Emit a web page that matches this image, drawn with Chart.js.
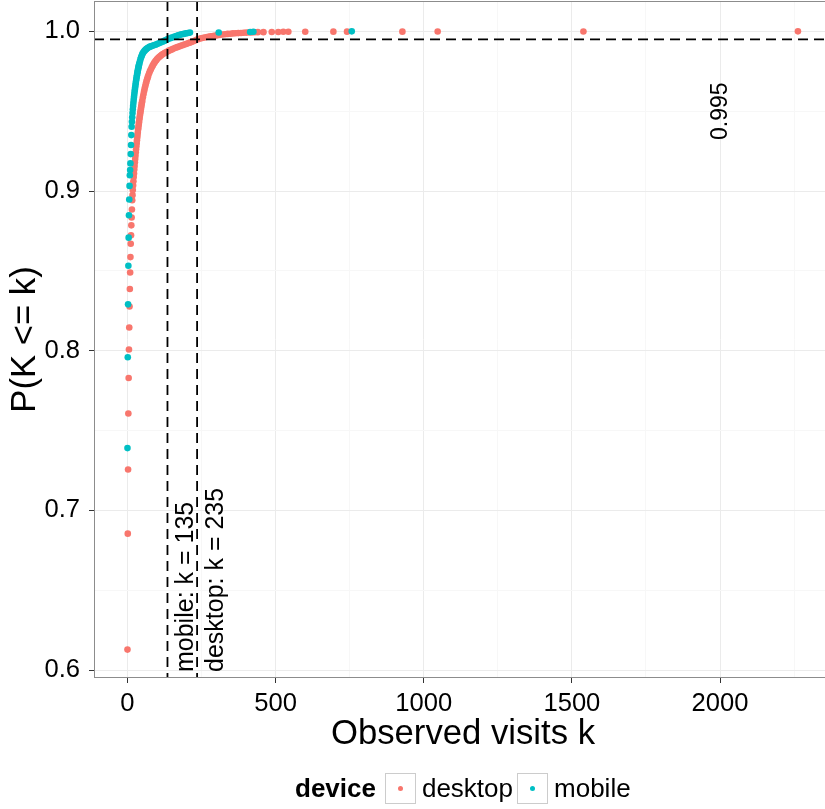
<!DOCTYPE html>
<html>
<head>
<meta charset="utf-8">
<script src="https://cdn.jsdelivr.net/npm/chart.js@4.4.1/dist/chart.umd.min.js"></script>
<style>
  html, body { margin: 0; padding: 0; background: #ffffff; overflow: hidden; }
  #wrap { position: relative; width: 825px; height: 809px; overflow: hidden; }
  #chart { position: absolute; left: 0; top: 0; }
  #legend {
    position: absolute; left: 295px; top: 773px; height: 30px;
    display: flex; align-items: center;
    font-family: "Liberation Sans", Arial, sans-serif; font-size: 26px; color: #000;
  }
  #legend .title { font-weight: bold; margin-right: 9px; }
  #legend .key {
    width: 29px; height: 29px; border: 1px solid #cccccc; box-sizing: content-box;
    display: flex; align-items: center; justify-content: center; background: #fff;
  }
  #legend .dot { width: 5px; height: 5px; border-radius: 50%; }
  #legend .lbl { margin-left: 6px; margin-right: 4px; }
</style>
</head>
<body>
<div id="wrap">
  <canvas id="chart" width="832" height="809"></canvas>
  <div id="legend"></div>
</div>
<script>
// Empirical CDF of observed visits per device: k and P(K <= k)
const desktopVisits = [
  0,1,2,3,4,5,6,7,8,9,10,11,12,13,14,15,16,17,18,19,20,21,22,23,24,25,26,27,28,29,30,
  31,32,33,34,35,36,37,38,39,40,41,42,43,44,45,46,47,48,49,50,
  52,54,56,58,60,62,64,66,68,70,73,76,79,82,85,88,91,94,97,100,
  104,108,112,116,120,125,130,135,140,145,150,156,162,168,174,180,186,192,198,204,
  210,216,222,228,235,242,249,256,264,272,280,288,296,304,312,320,329,338,347,356,
  365,374,383,392,401,410,420,430,440,459,487,509,526,543,600,695,741,928,1047,1539,2263
];
const desktopProb = [
  0.6128,0.6854,0.7256,0.7607,0.7829,0.8007,0.8145,0.8277,0.8386,0.8490,0.8586,0.8670,0.8723,0.8785,0.8834,0.8884,
  0.8942,0.8974,0.9006,0.9035,0.9061,0.9087,0.9110,0.9134,0.9157,0.9180,0.9200,0.9221,0.9243,0.9261,0.9281,
  0.9299,0.9318,0.9335,0.9353,0.9369,0.9386,0.9401,0.9417,0.9431,0.9446,0.9459,0.9473,0.9486,0.9498,0.9511,
  0.9522,0.9534,0.9546,0.9556,0.9567,
  0.9587,0.9606,0.9624,0.9641,0.9656,0.9671,0.9685,0.9698,0.9710,0.9721,0.9737,0.9751,0.9763,0.9775,0.9785,
  0.9795,0.9804,0.9812,0.9819,0.9826,
  0.9834,0.9841,0.9847,0.9853,0.9858,0.9864,0.9869,0.9874,0.9879,0.9883,0.9887,0.9892,0.9897,0.9901,0.9905,
  0.9909,0.9913,0.9917,0.9921,0.9925,
  0.9929,0.9933,0.9938,0.9943,0.9949,0.9953,0.9957,0.9960,0.9963,0.9966,0.9969,0.9971,0.9973,0.9976,0.9978,
  0.9980,0.9982,0.9984,0.9985,0.9987,
  0.9988,0.9989,0.9990,0.9991,0.9992,0.9993,0.9993,0.9994,0.9995,0.9995,0.9996,0.9996,0.9997,0.9997,0.9997,
  0.9998,0.9998,0.9998,0.9999,0.9999,1.0000
];
const mobileVisits = [
  0,1,2,3,4,5,6,7,8,9,10,11,12,13,14,15,16,17,18,19,20,21,22,23,24,25,26,27,28,29,30,
  31,32,33,34,35,36,37,38,39,40,42,44,46,48,50,52,55,58,61,64,68,72,76,80,84,89,94,
  100,106,112,118,124,130,135,141,147,153,159,165,171,177,183,190,197,204,211,308,414,425,757
];
const mobileProb = [
  0.7390,0.7959,0.8290,0.8532,0.8708,0.8848,0.8947,0.9032,0.9099,0.9131,0.9173,0.9231,0.9288,0.9350,0.9402,0.9434,
  0.9462,0.9488,0.9512,0.9533,0.9552,0.9571,0.9588,0.9605,0.9621,0.9636,0.9650,0.9664,0.9677,0.9690,0.9702,
  0.9714,0.9725,0.9736,0.9746,0.9756,0.9765,0.9774,0.9783,0.9791,0.9799,0.9813,0.9826,0.9837,0.9847,0.9856,
  0.9864,0.9872,0.9879,0.9885,0.9890,0.9895,0.9900,0.9904,0.9907,0.9910,0.9913,0.9916,
  0.9920,0.9925,0.9930,0.9935,0.9940,0.9945,0.9950,0.9955,0.9959,0.9963,0.9967,0.9971,0.9975,0.9978,0.9981,
  0.9984,0.9987,0.9990,0.9992,0.9993,0.9996,0.9997,1.0000
];

// Axis ticks: labelled (major) values and the full set of grid positions
const xTickLabels = [0, 500, 1000, 1500, 2000];
const xGridValues = [0, 250, 500, 750, 1000, 1250, 1500, 1750, 2000, 2250];
const yTickLabels = [0.6, 0.7, 0.8, 0.9, 1.0];
const yGridValues = [0.6, 0.65, 0.7, 0.75, 0.8, 0.85, 0.9, 0.95, 1.0];

// Reference level and the per-device cutoffs where it is reached
const quantileLevel = 0.995;
const mobileCutoff = 135;
const desktopCutoff = 235;
const seriesNames = ['desktop', 'mobile'];
const seriesColors = ['#F8766D', '#00BFC4'];

const FONT = '"Liberation Sans", Arial, sans-serif';

const toPoints = (xs, ys) => xs.map((x, i) => ({ x: x, y: ys[i] }));
const isMajorX = v => xTickLabels.some(t => Math.abs(t - v) < 1e-6);
const isMajorY = v => yTickLabels.some(t => Math.abs(t - v) < 1e-6);

// Dashed reference lines, their captions and the panel frame
const refPlugin = {
  id: 'refLines',
  afterDatasetsDraw(chart) {
    const { ctx, chartArea: a, scales: { x, y } } = chart;
    ctx.save();
    ctx.beginPath();
    ctx.rect(a.left, a.top, a.right - a.left, a.bottom - a.top);
    ctx.clip();
    ctx.strokeStyle = '#000';
    ctx.lineWidth = 1.8;
    ctx.setLineDash([10, 6]);
    const yq = y.getPixelForValue(quantileLevel);
    ctx.beginPath(); ctx.moveTo(a.left, yq); ctx.lineTo(a.right, yq); ctx.stroke();
    [mobileCutoff, desktopCutoff].forEach(k => {
      const px = x.getPixelForValue(k);
      ctx.beginPath(); ctx.moveTo(px, a.top); ctx.lineTo(px, a.bottom); ctx.stroke();
    });
    ctx.setLineDash([]);

    ctx.fillStyle = '#000';
    ctx.font = '25px ' + FONT;
    [['mobile: k = ' + mobileCutoff, mobileCutoff], ['desktop: k = ' + desktopCutoff, desktopCutoff]].forEach(([txt, k]) => {
      const px = x.getPixelForValue(k) + 26;
      const py = y.getPixelForValue(0.6) + 2;
      ctx.save();
      ctx.translate(px, py);
      ctx.rotate(-Math.PI / 2);
      ctx.textAlign = 'left';
      ctx.textBaseline = 'alphabetic';
      ctx.fillText(txt, 0, 0);
      ctx.restore();
    });
    ctx.font = '23px ' + FONT;
    ctx.save();
    ctx.translate(x.getPixelForValue(2000) + 1, y.getPixelForValue(0.95));
    ctx.rotate(-Math.PI / 2);
    ctx.textAlign = 'center';
    ctx.textBaseline = 'middle';
    ctx.fillText(String(quantileLevel), 0, 0);
    ctx.restore();
    ctx.restore();

    ctx.save();
    ctx.strokeStyle = '#8c8c8c';
    ctx.lineWidth = 1;
    ctx.strokeRect(a.left + 0.5, a.top + 0.5, a.right - a.left - 1, a.bottom - a.top - 1);
    ctx.restore();
  }
};

const gridColor = test => c => (c.tick && test(c.tick.value)) ? '#ebebeb' : '#f7f7f7';
const tickColor = test => c => (c.tick && test(c.tick.value)) ? '#333333' : 'rgba(0,0,0,0)';

new Chart(document.getElementById('chart'), {
  type: 'scatter',
  data: {
    datasets: [
      { label: seriesNames[1], data: toPoints(mobileVisits, mobileProb), backgroundColor: seriesColors[1], order: 1 },
      { label: seriesNames[0], data: toPoints(desktopVisits, desktopProb), backgroundColor: seriesColors[0], order: 2 }
    ]
  },
  options: {
    responsive: false,
    animation: false,
    events: [],
    layout: { autoPadding: false, padding: { top: 1, right: 0, left: 0, bottom: 0 } },
    elements: { point: { radius: 3.3, borderWidth: 0, hoverRadius: 3.3 } },
    plugins: { legend: { display: false }, tooltip: { enabled: false } },
    scales: {
      x: {
        type: 'linear',
        min: -113, max: 2378,
        afterBuildTicks(s) { s.ticks = xGridValues.map(v => ({ value: v })); },
        afterFit(s) { s.height = 131; s.paddingLeft = 0; s.paddingRight = 0; },
        border: { display: false },
        grid: { color: gridColor(isMajorX), lineWidth: 1, drawTicks: true, tickLength: 5, tickColor: tickColor(isMajorX) },
        ticks: {
          autoSkip: false, maxRotation: 0, minRotation: 0,
          padding: 6, color: '#000', font: { family: FONT, size: 25.6 },
          callback: v => isMajorX(v) ? String(v) : ''
        },
        title: {
          display: true, text: 'Observed visits k', color: '#000',
          font: { family: FONT, size: 34.7 }, padding: { top: 0, bottom: 54 }
        }
      },
      y: {
        type: 'linear',
        min: 0.595, max: 1.019,
        afterBuildTicks(s) { s.ticks = yGridValues.map(v => ({ value: v })); },
        afterFit(s) { s.width = 94; s.paddingTop = 0; s.paddingBottom = 0; },
        border: { display: false },
        grid: { color: gridColor(isMajorY), lineWidth: 1, drawTicks: true, tickLength: 5, tickColor: tickColor(isMajorY) },
        ticks: {
          autoSkip: false,
          padding: 9, color: '#000', font: { family: FONT, size: 25.6 },
          callback: v => isMajorY(v) ? v.toFixed(1) : ''
        },
        title: {
          display: true, text: 'P(K <= k)', color: '#000',
          font: { family: FONT, size: 34.7 }, padding: { top: 5, bottom: 0 }
        }
      }
    }
  },
  plugins: [refPlugin]
});

// Legend row below the panel
const legend = document.getElementById('legend');
const ttl = document.createElement('span');
ttl.className = 'title';
ttl.textContent = 'device';
legend.appendChild(ttl);
seriesNames.forEach((name, i) => {
  const key = document.createElement('span');
  key.className = 'key';
  const dot = document.createElement('span');
  dot.className = 'dot';
  dot.style.background = seriesColors[i];
  key.appendChild(dot);
  const lbl = document.createElement('span');
  lbl.className = 'lbl';
  lbl.textContent = name;
  legend.appendChild(key);
  legend.appendChild(lbl);
});
</script>
</body>
</html>
